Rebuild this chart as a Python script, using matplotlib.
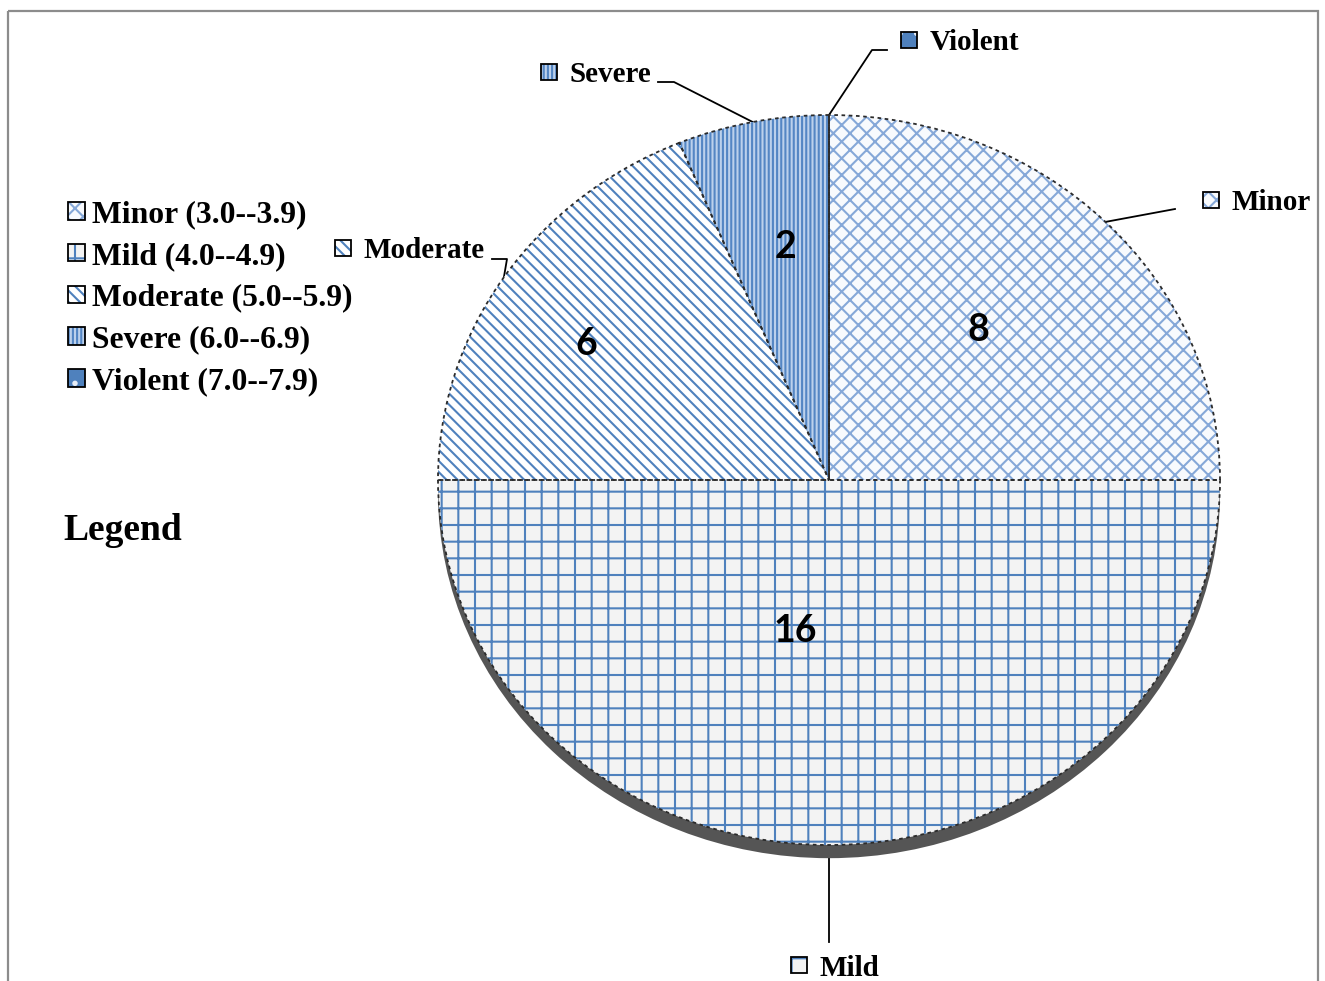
import matplotlib
matplotlib.use("Agg")
import matplotlib.pyplot as plt
from matplotlib.legend import Legend
from matplotlib.patches import Rectangle
import numpy as np

categories = ["Minor", "Mild", "Moderate", "Severe", "Violent"]
ranges = ["3.0--3.9", "4.0--4.9", "5.0--5.9", "6.0--6.9", "7.0--7.9"]
counts = [8, 16, 6, 2, 0]

face_colors = ["#f8fafd", "#f3f3f3", "#ffffff", "#bcd1ec", "#4f81bd"]
hatch_colors = ["#86a8d8", "#4f81bd", "#4f81bd", "#5486c4", "#e8eef7"]
hatches = ["xx", "+", "\\\\\\", "||||", "."]

plt.rcParams["hatch.linewidth"] = 1.5

W, H = 1325, 981
fig = plt.figure(figsize=(W / 100, H / 100), dpi=100)

# pixel-space overlay for texts, leader lines and frame
over = fig.add_axes([0, 0, 1, 1])
over.set_xlim(0, W)
over.set_ylim(H, 0)
over.axis("off")

# slightly squashed pie, like a tilted 3D pie
cx, cy, rx, ry = 829, 480, 391, 365
ax = fig.add_axes([(cx - rx) / W, 1 - (cy + ry) / H, 2 * rx / W, 2 * ry / H])

wedges, _ = ax.pie(counts, startangle=90, counterclock=False,
                   colors=face_colors, hatch=hatches,
                   wedgeprops=dict(linewidth=0),
                   shadow={"ox": 0, "oy": -0.026, "shade": 0.65,
                           "alpha": 1, "hatch": None})
for w, hc in zip(wedges, hatch_colors):
    w.set_edgecolor(hc)
    w.set_linewidth(0)

# dotted outline on top
ax.pie(counts, startangle=90, counterclock=False,
       wedgeprops=dict(fill=False, edgecolor="#2b2b2b", linewidth=1.3,
                       linestyle=(0, (2, 2))))
ax.set_aspect("auto")
ax.set_xlim(-1, 1)
ax.set_ylim(-1, 1)
ax.axis("off")

# value labels inside the slices
num_dist = [0.57, 0.41, 0.73, 0.66, 0]
num_shift = [3, -12, 2, -1.5, 0]
for w, n, d, s in zip(wedges, counts, num_dist, num_shift):
    if n == 0:
        continue
    mid = np.deg2rad((w.theta1 + w.theta2) / 2 + s)
    ax.annotate(str(n), (d * np.cos(mid), d * np.sin(mid)),
                xytext=(0, -3), textcoords="offset points",
                ha="center", va="center", fontsize=27, fontweight="bold",
                family="Lato")


def to_px(x, y):
    return over.transData.inverted().transform(ax.transData.transform((x, y)))


def handle(w):
    box = Rectangle((0, 0), 1, 1, fill=False, edgecolor="black", linewidth=1.3)
    return (w, box)


callout_font = dict(family="Liberation Serif", weight="bold", size=21)
legend_font = dict(family="Liberation Serif", weight="bold", size=22.8)

# leader lines and callout labels: (elbow points, icon x, icon y)
callouts = [
    ([(1175, 209)], 1203, 203),
    ([(842, 942)], 791, 968),
    ([(507, 259), (492, 259)], 335, 251),
    ([(674, 82), (658, 82)], 541, 75),
    ([(872, 50), (887, 50)], 901, 43),
]
for w, name, (pts, lx, ly) in zip(wedges, categories, callouts):
    mid = np.deg2rad((w.theta1 + w.theta2) / 2)
    ex, ey = to_px(np.cos(mid), np.sin(mid))
    if name == "Mild":
        pts = [(ex, 942)]
    xs = [ex] + [p[0] for p in pts]
    ys = [ey] + [p[1] for p in pts]
    over.plot(xs, ys, color="black", linewidth=1.3)
    leg = Legend(over, [handle(w)], [name], loc="center left",
                 bbox_to_anchor=(lx, ly), bbox_transform=over.transData,
                 frameon=False, prop=callout_font, handlelength=0.55,
                 handleheight=0.5, handletextpad=0.42, borderpad=0,
                 borderaxespad=0)
    over.add_artist(leg)

# legend block on the left
labels = [f"{c} ({r})" for c, r in zip(categories, ranges)]
over.legend([handle(w) for w in wedges], labels, loc="upper left",
            bbox_to_anchor=(68, 200), bbox_transform=over.transData,
            frameon=False, prop=legend_font, handlelength=0.55,
            handleheight=0.48, handletextpad=0.2, labelspacing=0.405,
            borderpad=0, borderaxespad=0)
over.text(63, 530, "Legend", ha="left", va="center",
          family="Liberation Serif", weight="bold", size=27)

over.add_patch(Rectangle((8, 11), 1310, 1000, fill=False,
                         edgecolor="#8c8c8c", linewidth=1.6, clip_on=False))

fig.savefig("out.png", dpi=100)
